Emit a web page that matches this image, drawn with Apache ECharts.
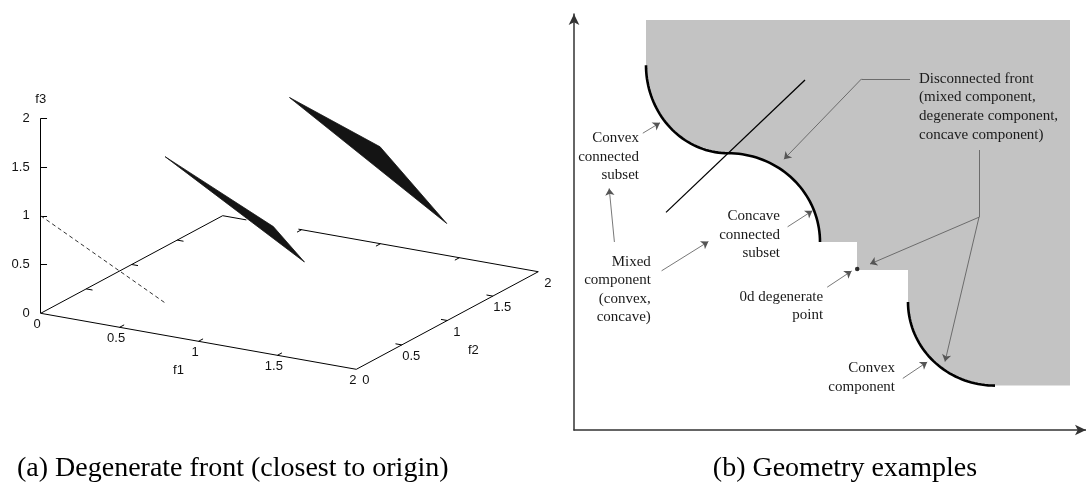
<!DOCTYPE html>
<html><head><meta charset="utf-8">
<script src="https://cdn.jsdelivr.net/npm/echarts@6/dist/echarts.min.js"></script>
<style>html,body{margin:0;padding:0;background:#fff}#c{width:1086px;height:488px}</style>
</head><body><div id="c"></div>
<script>
// ================= Panel (a): 3-D objective space (f1, f2, f3) =================
const axisTicks3D = [0, 0.5, 1, 1.5, 2];
const tickLabels3D = ['0', '0.5', '1', '1.5', '2'];
const innerTicks3D = [0.5, 1, 1.5];
const degenerateLine = [[0, 0, 1], [0.5, 0.5, 0]];            // dashed degenerate front
const meshNear = [[0.5, 0.5, 1.5], [0.935, 0.935, 0.69], [1.06, 1.06, 0.30]];
const meshFar  = [[1.0, 1.0, 2.0], [1.364, 1.364, 1.417], [1.632, 1.632, 0.573]];
const backEdgeHidden = [0.15, 0.48];                          // f1 range of back edge hidden by mesh
const axisNames3D = ['f1', 'f2', 'f3'];

// view (projection of unit f1, f2, f3 onto the picture plane)
const viewF1 = [1.6185, -0.2872];
const viewF2 = [0.9333, 0.5005];
const viewF3 = [0, 1];
function proj(p) {
  return [p[0] * viewF1[0] + p[1] * viewF2[0] + p[2] * viewF3[0],
          p[0] * viewF1[1] + p[1] * viewF2[1] + p[2] * viewF3[1]];
}

// ================= Panel (b): geometry examples (schematic units) =================
const regionTopCorners = [[18, 102.5], [124, 102.5], [124, 11.1]];
const convexComponentArc = [105.25, 32, 21.75, 20.9, 270, 180];   // cx, cy, rx, ry, startDeg, endDeg
const stepCorners = [[83.5, 32], [83.5, 40], [70.75, 40], [70.75, 47], [61.5, 47]];
const concaveSubsetArc = [38.5, 47, 23, 22.2, 0, 90];
const convexSubsetArc = [38.5, 91.2, 20.5, 22, 270, 180];
const tangentLine = [[23, 54.4], [57.75, 87.5]];
const degeneratePoint = [70.8, 40.25];
const annotationArrows = [
  [[17.2, 74.2], [21.5, 76.8]],
  [[10.1, 47], [8.8, 60.4]],
  [[21.9, 39.8], [33.6, 47.1]],
  [[53.4, 50.8], [59.6, 54.8]],
  [[84, 87.8], [71.9, 87.8], [52.5, 67.7]],
  [[101.25, 70], [101.25, 53.2], [74, 41.5]],
  [[101.25, 53.2], [92.75, 17.1]],
  [[63.3, 35.7], [69.4, 39.75]],
  [[82.2, 12.9], [88.3, 17]]
];
const annotationTexts = [
  'Convex\nconnected\nsubset',
  'Concave\nconnected\nsubset',
  'Mixed\ncomponent\n(convex,\nconcave)',
  '0d degenerate\npoint',
  'Convex\ncomponent',
  'Disconnected front\n(mixed component,\ndegenerate component,\nconcave component)'
];
const annotationAnchors = [[16.25, 75.25], [51.5, 55.75], [19.2, 44.4], [62.3, 35.6], [80.25, 17.75], [86.25, 90.1]];
const annotationAlign = ['right', 'right', 'right', 'right', 'right', 'left'];

const captions = ['(a) Degenerate front (closest to origin)', '(b) Geometry examples'];

// ---------------- helpers ----------------
function arcPoints(a, n) {
  const pts = [];
  for (let i = 0; i <= n; i++) {
    const t = (a[4] + (a[5] - a[4]) * i / n) * Math.PI / 180;
    pts.push([a[0] + a[2] * Math.cos(t), a[1] + a[3] * Math.sin(t)]);
  }
  return pts;
}

// panel (a) line segments
const boxSegments = [
  [[0, 0, 0], [2, 0, 0]],
  [[2, 0, 0], [2, 2, 0]],
  [[0, 0, 0], [0, 2, 0]],
  [[0, 2, 0], [backEdgeHidden[0], 2, 0]],
  [[backEdgeHidden[1], 2, 0], [2, 2, 0]],
  [[0, 0, 0], [0, 0, 2]]
];
innerTicks3D.forEach(v => {
  boxSegments.push([[v, 0, 0], [v, 0.05, 0]]);
  boxSegments.push([[v, 2, 0], [v, 1.95, 0]]);
  boxSegments.push([[0, v, 0], [0.04, v, 0]]);
  boxSegments.push([[2, v, 0], [1.96, v, 0]]);
});
const lineData3D = boxSegments.map(s => ({ coords: [proj(s[0]), proj(s[1])] }));
[0.5, 1, 1.5, 2].forEach(v => {
  const p = proj([0, 0, v]);
  lineData3D.push({ coords: [p, [p[0] + 0.065, p[1]]] });
});

const labels3D = [];
axisTicks3D.forEach((v, i) => {
  labels3D.push({ pos: proj([v, 0, 0]), dx: -3.5, dy: 11, text: tickLabels3D[i], align: 'center' });
  labels3D.push({ pos: proj([2, v, 0]), dx: 9.5, dy: 11.5, text: tickLabels3D[i], align: 'center' });
  labels3D.push({ pos: proj([0, 0, v]), dx: -11, dy: 0, text: tickLabels3D[i], align: 'right' });
});
labels3D.push({ pos: proj([1, 0, 0]), dx: -20, dy: 29, text: axisNames3D[0], align: 'center' });
labels3D.push({ pos: proj([2, 1, 0]), dx: 26, dy: 30, text: axisNames3D[1], align: 'center' });
labels3D.push({ pos: proj([0, 0, 2]), dx: 0, dy: -19, text: axisNames3D[2], align: 'center' });

const meshes = [meshNear, meshFar];

// panel (b) region outline
const regionOutline = [].concat(
  regionTopCorners,
  arcPoints(convexComponentArc, 40),
  stepCorners,
  arcPoints(concaveSubsetArc, 40),
  arcPoints(convexSubsetArc, 40)
);

// annotation leader segments: last segment of each leader carries the arrow head
const leaderPlain = [], leaderHead = [];
annotationArrows.forEach(a => {
  for (let i = 0; i < a.length - 1; i++) {
    (i === a.length - 2 ? leaderHead : leaderPlain).push({ coords: [a[i], a[i + 1]] });
  }
});

const chart = echarts.init(document.getElementById('c'));
const serif = '"Liberation Serif", "Times New Roman", serif';
const sans = '"Liberation Sans", Arial, sans-serif';

const option = {
  animation: false,
  backgroundColor: '#ffffff',
  title: [
    { text: captions[0], left: 12, top: 450, textAlign: 'left',
      textStyle: { fontFamily: serif, fontSize: 28, fontWeight: 'normal', color: '#000' } },
    { text: captions[1], left: 840, top: 450, textAlign: 'center',
      textStyle: { fontFamily: serif, fontSize: 28, fontWeight: 'normal', color: '#000' } }
  ],
  grid: [
    { left: 0, top: 0, width: 560, height: 488 },
    { left: 574, top: 14, width: 512, height: 416 }
  ],
  xAxis: [
    { gridIndex: 0, type: 'value', min: -0.4174, max: 5.3262, show: false },
    { gridIndex: 1, type: 'value', min: 0, max: 128,
      axisLine: { show: true, onZero: true, symbol: ['none', 'arrow'], symbolSize: [8, 11],
                  lineStyle: { color: '#333', width: 1.5 } },
      axisTick: { show: false }, axisLabel: { show: false }, splitLine: { show: false } }
  ],
  yAxis: [
    { gridIndex: 0, type: 'value', min: -1.7918, max: 3.2133, show: false },
    { gridIndex: 1, type: 'value', min: 0, max: 104,
      axisLine: { show: true, onZero: true, symbol: ['none', 'arrow'], symbolSize: [8, 11],
                  lineStyle: { color: '#333', width: 1.5 } },
      axisTick: { show: false }, axisLabel: { show: false }, splitLine: { show: false } }
  ],
  series: [
    // ---------- panel (a) ----------
    { type: 'lines', coordinateSystem: 'cartesian2d', xAxisIndex: 0, yAxisIndex: 0, z: 2,
      lineStyle: { color: '#000', width: 1, opacity: 1 }, silent: true, data: lineData3D },
    { type: 'lines', coordinateSystem: 'cartesian2d', xAxisIndex: 0, yAxisIndex: 0, z: 2,
      lineStyle: { color: '#333', width: 1, opacity: 1, type: [4, 3] }, silent: true,
      data: [{ coords: degenerateLine.map(proj) }] },
    { type: 'custom', coordinateSystem: 'cartesian2d', xAxisIndex: 0, yAxisIndex: 0, z: 3, silent: true,
      data: meshes.map((m, i) => [i, 0]),
      renderItem: (params, api) => ({
        type: 'polygon',
        shape: { points: meshes[params.dataIndex].map(p => api.coord(proj(p))) },
        style: { fill: '#141414', stroke: '#141414', lineWidth: 0.8 }
      }) },
    { type: 'custom', coordinateSystem: 'cartesian2d', xAxisIndex: 0, yAxisIndex: 0, z: 4, silent: true,
      data: labels3D.map((l, i) => [i, 0]),
      renderItem: (params, api) => {
        const l = labels3D[params.dataIndex];
        const c = api.coord(l.pos);
        return { type: 'text', x: c[0] + l.dx, y: c[1] + l.dy,
                 style: { text: l.text, fill: '#111', font: '13px ' + sans, align: l.align, verticalAlign: 'middle' } };
      } },
    // ---------- panel (b) ----------
    { type: 'custom', coordinateSystem: 'cartesian2d', xAxisIndex: 1, yAxisIndex: 1, z: 1, silent: true,
      data: [[0, 0]],
      renderItem: (params, api) => ({
        type: 'polygon',
        shape: { points: regionOutline.map(p => api.coord(p)) },
        style: { fill: '#c3c3c3', stroke: 'none' }
      }) },
    { type: 'lines', coordinateSystem: 'cartesian2d', xAxisIndex: 1, yAxisIndex: 1, z: 3, silent: true,
      lineStyle: { color: '#000', width: 1.3, opacity: 1 }, data: [{ coords: tangentLine }] },
    { type: 'lines', coordinateSystem: 'cartesian2d', xAxisIndex: 1, yAxisIndex: 1, z: 4, silent: true,
      polyline: true, lineStyle: { color: '#000', width: 2.6, opacity: 1 },
      data: [convexSubsetArc, concaveSubsetArc, convexComponentArc].map(a => ({ coords: arcPoints(a, 40) })) },
    { type: 'lines', coordinateSystem: 'cartesian2d', xAxisIndex: 1, yAxisIndex: 1, z: 5, silent: true,
      lineStyle: { color: '#555', width: 0.8, opacity: 1 }, data: leaderPlain },
    { type: 'lines', coordinateSystem: 'cartesian2d', xAxisIndex: 1, yAxisIndex: 1, z: 5, silent: true,
      symbol: ['none', 'arrow'], symbolSize: 7,
      itemStyle: { color: '#111' },
      lineStyle: { color: '#555', width: 0.8, opacity: 1 }, data: leaderHead },
    { type: 'scatter', xAxisIndex: 1, yAxisIndex: 1, z: 6, silent: true, symbolSize: 4.5,
      itemStyle: { color: '#000' }, data: [degeneratePoint] },
    { type: 'custom', coordinateSystem: 'cartesian2d', xAxisIndex: 1, yAxisIndex: 1, z: 7, silent: true,
      data: annotationTexts.map((t, i) => [i, 0]),
      renderItem: (params, api) => {
        const i = params.dataIndex;
        const c = api.coord(annotationAnchors[i]);
        return { type: 'text', x: c[0], y: c[1],
                 style: { text: annotationTexts[i], fill: '#1a1a1a', font: '15px ' + serif,
                          align: annotationAlign[i], verticalAlign: 'top', lineHeight: 18.6 } };
      } }
  ]
};
chart.setOption(option);
</script>
</body></html>
